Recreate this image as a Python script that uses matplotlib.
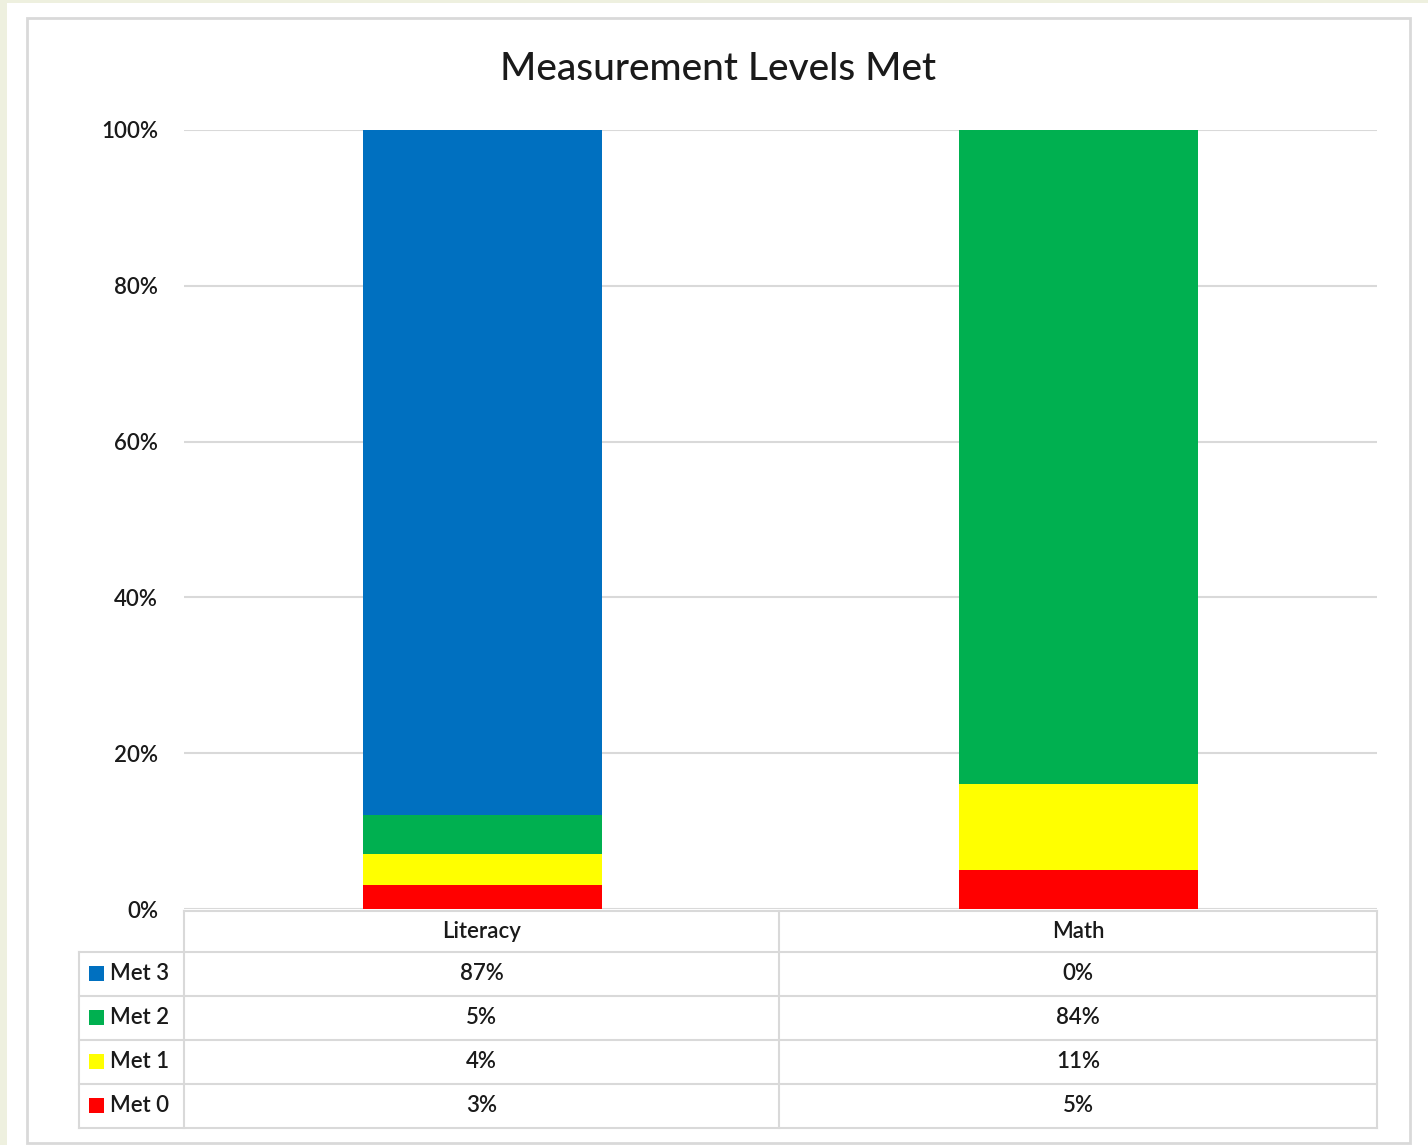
import matplotlib.pyplot as plt
from matplotlib.patches import Rectangle

W, H = 1428, 1145

categories = ['Literacy', 'Math']
series_names = ['Met 3', 'Met 2', 'Met 1', 'Met 0']
met3 = [87, 0]
met2 = [5, 84]
met1 = [4, 11]
met0 = [3, 5]
colors = {'Met 3': '#0070c0', 'Met 2': '#00b050', 'Met 1': '#ffff00', 'Met 0': '#ff0000'}
y_ticks = [0, 20, 40, 60, 80, 100]

plt.rcParams['font.family'] = ['Lato', 'DejaVu Sans']
TEXT = '#1a1a1a'
GRID = '#d9d9d9'
FS = 16
WEIGHT = 'semibold'


def fx(px):
  return px / W


def fy(py):
  return 1 - py / H


fig = plt.figure(figsize=(W / 100, H / 100), dpi=100, facecolor='#eef0df')

# white slide area and chart frame
fig.patches.append(Rectangle((fx(7), 0), 1 - fx(7), fy(3), transform=fig.transFigure,
                             facecolor='white', edgecolor='none', zorder=-10))
fig.patches.append(Rectangle((fx(27), fy(1143)), fx(1410) - fx(27), fy(18) - fy(1143),
                             transform=fig.transFigure, facecolor='white',
                             edgecolor=GRID, lw=2, zorder=-9))

ax = fig.add_axes([fx(184), fy(909), fx(1377) - fx(184), fy(130) - fy(909)])
ax.set_facecolor('none')

data = {'Met 3': met3, 'Met 2': met2, 'Met 1': met1, 'Met 0': met0}
totals = [sum(data[s][i] for s in series_names) for i in range(len(categories))]
x = range(len(categories))
bottom = [0.0] * len(categories)
for name in ['Met 0', 'Met 1', 'Met 2', 'Met 3']:
  vals = [100 * v / t for v, t in zip(data[name], totals)]
  ax.bar(x, vals, 0.4, bottom=bottom, color=colors[name], zorder=3)
  bottom = [b + v for b, v in zip(bottom, vals)]

ax.set_xlim(-0.5, 1.5)
ax.set_ylim(0, 100)
ax.set_yticks(y_ticks)
ax.set_yticklabels([f'{t}%' for t in y_ticks], fontsize=FS, color=TEXT, fontweight=WEIGHT)
ax.tick_params(axis='y', length=0, pad=18.7)
ax.set_xticks([])
ax.grid(axis='y', color=GRID, lw=1.5, zorder=0)
for s in ax.spines.values():
  s.set_visible(False)

fig.text(fx(718), fy(69), 'Measurement Levels Met', ha='center', va='center',
         fontsize=28, color=TEXT, fontweight='medium')

# data table under the plot
col_edges = [79, 184, 779, 1377]
row_edges = [911, 952, 996, 1040, 1084, 1128]
tax = fig.add_axes([0, 0, 1, 1], facecolor='none')
tax.set_xlim(0, W)
tax.set_ylim(H, 0)
tax.axis('off')
lw = 1.5
# header row has no label cell
tax.plot([184, 1377], [911, 911], color=GRID, lw=lw)
for yy in row_edges[1:]:
  tax.plot([79, 1377], [yy, yy], color=GRID, lw=lw)
tax.plot([79, 79], [952, 1128], color=GRID, lw=lw)
for xx in col_edges[1:]:
  tax.plot([xx, xx], [911, 1128], color=GRID, lw=lw)

for i, cat in enumerate(categories):
  cx = (col_edges[i + 1] + col_edges[i + 2]) / 2
  tax.text(cx, 931, cat, ha='center', va='center', fontsize=FS, color=TEXT, fontweight=WEIGHT)
  for r, name in enumerate(series_names):
    cy = (row_edges[r + 1] + row_edges[r + 2]) / 2
    tax.text(cx, cy, f'{data[name][i]}%', ha='center', va='center', fontsize=FS,
             color=TEXT, fontweight=WEIGHT)

for r, name in enumerate(series_names):
  cy = (row_edges[r + 1] + row_edges[r + 2]) / 2
  tax.add_patch(Rectangle((89, cy - 8), 15, 15, facecolor=colors[name], edgecolor='none'))
  tax.text(110, cy, name, ha='left', va='center', fontsize=FS, color=TEXT, fontweight=WEIGHT)

fig.savefig('out.png', dpi=100, facecolor=fig.get_facecolor())
